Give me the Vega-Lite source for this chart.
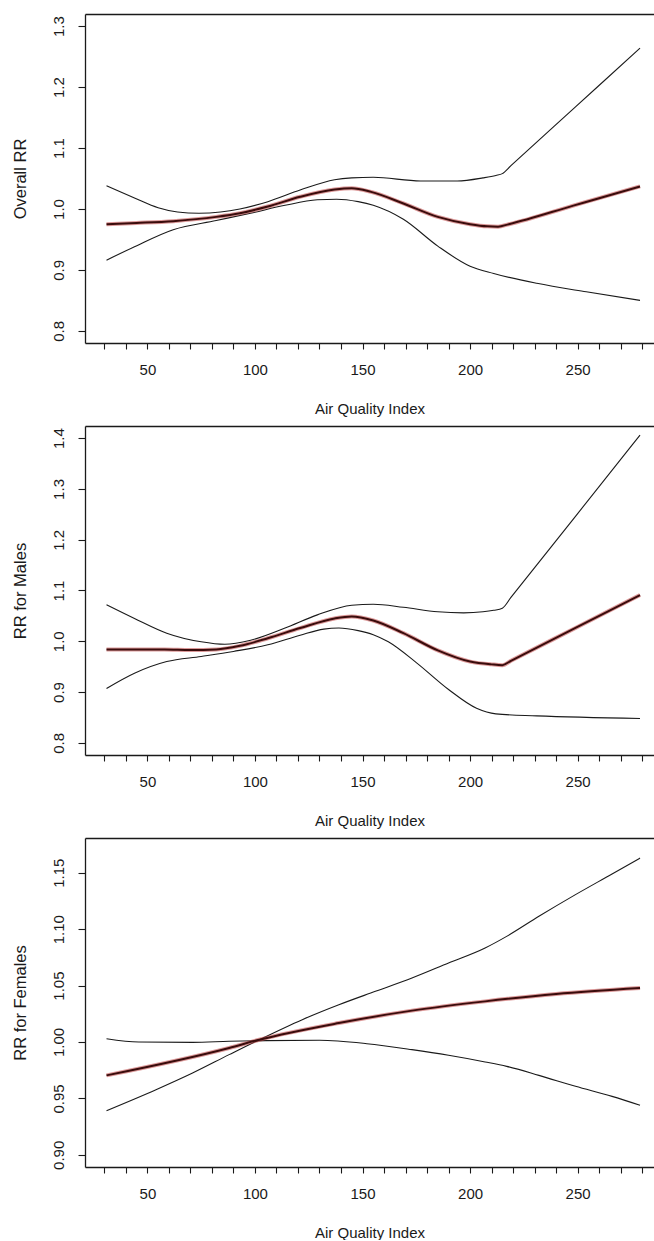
{
  "$schema": "https://vega.github.io/schema/vega-lite/v6.json",
  "padding": {"left": 12, "top": 14, "right": 0, "bottom": 0},
  "background": "white",
  "config": {
    "view": {"stroke": null},
    "axis": {
      "grid": false,
      "domainColor": "#1a1a1a",
      "domainWidth": 1.3,
      "tickColor": "#1a1a1a",
      "tickWidth": 1.1,
      "tickSize": 6,
      "labelFont": "Liberation Sans",
      "labelFontSize": 15,
      "labelColor": "#1a1a1a",
      "titleFont": "Liberation Sans",
      "titleFontSize": 15,
      "titleFontWeight": "normal",
      "titleColor": "#1a1a1a",
      "labelOverlap": false,
      "labelFlush": false
    },
    "axisY": {"titleFontSize": 16.5, "tickSize": 7}
  },
  "datasets": {
    "rr": [
      {"panel": "overall", "series": "est", "aqi": 31, "rr": 0.975},
      {"panel": "overall", "series": "est", "aqi": 45, "rr": 0.977},
      {"panel": "overall", "series": "est", "aqi": 62, "rr": 0.980},
      {"panel": "overall", "series": "est", "aqi": 82, "rr": 0.987},
      {"panel": "overall", "series": "est", "aqi": 93, "rr": 0.993},
      {"panel": "overall", "series": "est", "aqi": 106, "rr": 1.004},
      {"panel": "overall", "series": "est", "aqi": 121, "rr": 1.020},
      {"panel": "overall", "series": "est", "aqi": 137, "rr": 1.032},
      {"panel": "overall", "series": "est", "aqi": 145, "rr": 1.034},
      {"panel": "overall", "series": "est", "aqi": 154, "rr": 1.028},
      {"panel": "overall", "series": "est", "aqi": 169, "rr": 1.009},
      {"panel": "overall", "series": "est", "aqi": 185, "rr": 0.987},
      {"panel": "overall", "series": "est", "aqi": 200, "rr": 0.975},
      {"panel": "overall", "series": "est", "aqi": 208, "rr": 0.9715},
      {"panel": "overall", "series": "est", "aqi": 213, "rr": 0.971},
      {"panel": "overall", "series": "est", "aqi": 218, "rr": 0.975},
      {"panel": "overall", "series": "est", "aqi": 248, "rr": 1.0055},
      {"panel": "overall", "series": "est", "aqi": 279, "rr": 1.037},
      {"panel": "overall", "series": "upper", "aqi": 31, "rr": 1.038},
      {"panel": "overall", "series": "upper", "aqi": 44, "rr": 1.018},
      {"panel": "overall", "series": "upper", "aqi": 55, "rr": 1.002},
      {"panel": "overall", "series": "upper", "aqi": 64, "rr": 0.995},
      {"panel": "overall", "series": "upper", "aqi": 74, "rr": 0.993},
      {"panel": "overall", "series": "upper", "aqi": 84, "rr": 0.995},
      {"panel": "overall", "series": "upper", "aqi": 93, "rr": 1.000},
      {"panel": "overall", "series": "upper", "aqi": 106, "rr": 1.012},
      {"panel": "overall", "series": "upper", "aqi": 121, "rr": 1.031},
      {"panel": "overall", "series": "upper", "aqi": 137, "rr": 1.048},
      {"panel": "overall", "series": "upper", "aqi": 145, "rr": 1.051},
      {"panel": "overall", "series": "upper", "aqi": 155, "rr": 1.052},
      {"panel": "overall", "series": "upper", "aqi": 177, "rr": 1.046},
      {"panel": "overall", "series": "upper", "aqi": 194, "rr": 1.046},
      {"panel": "overall", "series": "upper", "aqi": 206, "rr": 1.051},
      {"panel": "overall", "series": "upper", "aqi": 212, "rr": 1.055},
      {"panel": "overall", "series": "upper", "aqi": 215, "rr": 1.058},
      {"panel": "overall", "series": "upper", "aqi": 219, "rr": 1.071},
      {"panel": "overall", "series": "upper", "aqi": 249, "rr": 1.1675},
      {"panel": "overall", "series": "upper", "aqi": 279, "rr": 1.264},
      {"panel": "overall", "series": "lower", "aqi": 31, "rr": 0.916},
      {"panel": "overall", "series": "lower", "aqi": 44, "rr": 0.938},
      {"panel": "overall", "series": "lower", "aqi": 62, "rr": 0.966},
      {"panel": "overall", "series": "lower", "aqi": 82, "rr": 0.981},
      {"panel": "overall", "series": "lower", "aqi": 98, "rr": 0.993},
      {"panel": "overall", "series": "lower", "aqi": 114, "rr": 1.006},
      {"panel": "overall", "series": "lower", "aqi": 129, "rr": 1.015},
      {"panel": "overall", "series": "lower", "aqi": 138, "rr": 1.016},
      {"panel": "overall", "series": "lower", "aqi": 148, "rr": 1.012},
      {"panel": "overall", "series": "lower", "aqi": 155, "rr": 1.006},
      {"panel": "overall", "series": "lower", "aqi": 169, "rr": 0.983},
      {"panel": "overall", "series": "lower", "aqi": 185, "rr": 0.939},
      {"panel": "overall", "series": "lower", "aqi": 200, "rr": 0.906},
      {"panel": "overall", "series": "lower", "aqi": 211, "rr": 0.894},
      {"panel": "overall", "series": "lower", "aqi": 231, "rr": 0.878},
      {"panel": "overall", "series": "lower", "aqi": 254, "rr": 0.864},
      {"panel": "overall", "series": "lower", "aqi": 279, "rr": 0.850},

      {"panel": "males", "series": "est", "aqi": 31, "rr": 0.984},
      {"panel": "males", "series": "est", "aqi": 45, "rr": 0.984},
      {"panel": "males", "series": "est", "aqi": 58, "rr": 0.984},
      {"panel": "males", "series": "est", "aqi": 70, "rr": 0.983},
      {"panel": "males", "series": "est", "aqi": 82, "rr": 0.984},
      {"panel": "males", "series": "est", "aqi": 93, "rr": 0.991},
      {"panel": "males", "series": "est", "aqi": 106, "rr": 1.006},
      {"panel": "males", "series": "est", "aqi": 121, "rr": 1.026},
      {"panel": "males", "series": "est", "aqi": 137, "rr": 1.045},
      {"panel": "males", "series": "est", "aqi": 145, "rr": 1.049},
      {"panel": "males", "series": "est", "aqi": 155, "rr": 1.041},
      {"panel": "males", "series": "est", "aqi": 169, "rr": 1.016},
      {"panel": "males", "series": "est", "aqi": 185, "rr": 0.982},
      {"panel": "males", "series": "est", "aqi": 200, "rr": 0.960},
      {"panel": "males", "series": "est", "aqi": 210, "rr": 0.9545},
      {"panel": "males", "series": "est", "aqi": 215, "rr": 0.953},
      {"panel": "males", "series": "est", "aqi": 219, "rr": 0.9616},
      {"panel": "males", "series": "est", "aqi": 249, "rr": 1.0263},
      {"panel": "males", "series": "est", "aqi": 279, "rr": 1.091},
      {"panel": "males", "series": "upper", "aqi": 31, "rr": 1.072},
      {"panel": "males", "series": "upper", "aqi": 44, "rr": 1.045},
      {"panel": "males", "series": "upper", "aqi": 59, "rr": 1.016},
      {"panel": "males", "series": "upper", "aqi": 75, "rr": 0.999},
      {"panel": "males", "series": "upper", "aqi": 86, "rr": 0.994},
      {"panel": "males", "series": "upper", "aqi": 98, "rr": 1.002},
      {"panel": "males", "series": "upper", "aqi": 114, "rr": 1.026},
      {"panel": "males", "series": "upper", "aqi": 129, "rr": 1.052},
      {"panel": "males", "series": "upper", "aqi": 145, "rr": 1.071},
      {"panel": "males", "series": "upper", "aqi": 155, "rr": 1.073},
      {"panel": "males", "series": "upper", "aqi": 169, "rr": 1.067},
      {"panel": "males", "series": "upper", "aqi": 185, "rr": 1.058},
      {"panel": "males", "series": "upper", "aqi": 197, "rr": 1.056},
      {"panel": "males", "series": "upper", "aqi": 206, "rr": 1.058},
      {"panel": "males", "series": "upper", "aqi": 211, "rr": 1.061},
      {"panel": "males", "series": "upper", "aqi": 215, "rr": 1.065},
      {"panel": "males", "series": "upper", "aqi": 219, "rr": 1.0863},
      {"panel": "males", "series": "upper", "aqi": 249, "rr": 1.2461},
      {"panel": "males", "series": "upper", "aqi": 279, "rr": 1.406},
      {"panel": "males", "series": "lower", "aqi": 31, "rr": 0.907},
      {"panel": "males", "series": "lower", "aqi": 44, "rr": 0.937},
      {"panel": "males", "series": "lower", "aqi": 59, "rr": 0.960},
      {"panel": "males", "series": "lower", "aqi": 75, "rr": 0.970},
      {"panel": "males", "series": "lower", "aqi": 90, "rr": 0.980},
      {"panel": "males", "series": "lower", "aqi": 106, "rr": 0.993},
      {"panel": "males", "series": "lower", "aqi": 121, "rr": 1.012},
      {"panel": "males", "series": "lower", "aqi": 132, "rr": 1.024},
      {"panel": "males", "series": "lower", "aqi": 139, "rr": 1.026},
      {"panel": "males", "series": "lower", "aqi": 148, "rr": 1.021},
      {"panel": "males", "series": "lower", "aqi": 155, "rr": 1.013},
      {"panel": "males", "series": "lower", "aqi": 162, "rr": 0.999},
      {"panel": "males", "series": "lower", "aqi": 175, "rr": 0.958},
      {"panel": "males", "series": "lower", "aqi": 190, "rr": 0.905},
      {"panel": "males", "series": "lower", "aqi": 203, "rr": 0.868},
      {"panel": "males", "series": "lower", "aqi": 212, "rr": 0.857},
      {"panel": "males", "series": "lower", "aqi": 231, "rr": 0.853},
      {"panel": "males", "series": "lower", "aqi": 279, "rr": 0.848},

      {"panel": "females", "series": "est", "aqi": 31, "rr": 0.9704},
      {"panel": "females", "series": "est", "aqi": 88, "rr": 0.9947},
      {"panel": "females", "series": "est", "aqi": 102, "rr": 1.0020},
      {"panel": "females", "series": "est", "aqi": 139, "rr": 1.0168},
      {"panel": "females", "series": "est", "aqi": 173, "rr": 1.0278},
      {"panel": "females", "series": "est", "aqi": 207, "rr": 1.0360},
      {"panel": "females", "series": "est", "aqi": 240, "rr": 1.0425},
      {"panel": "females", "series": "est", "aqi": 279, "rr": 1.0478},
      {"panel": "females", "series": "upper", "aqi": 31, "rr": 0.9391},
      {"panel": "females", "series": "upper", "aqi": 54, "rr": 0.9577},
      {"panel": "females", "series": "upper", "aqi": 71, "rr": 0.9725},
      {"panel": "females", "series": "upper", "aqi": 88, "rr": 0.9888},
      {"panel": "females", "series": "upper", "aqi": 102, "rr": 1.0020},
      {"panel": "females", "series": "upper", "aqi": 122, "rr": 1.0198},
      {"panel": "females", "series": "upper", "aqi": 139, "rr": 1.0330},
      {"panel": "females", "series": "upper", "aqi": 156, "rr": 1.0449},
      {"panel": "females", "series": "upper", "aqi": 173, "rr": 1.0567},
      {"panel": "females", "series": "upper", "aqi": 190, "rr": 1.0700},
      {"panel": "females", "series": "upper", "aqi": 207, "rr": 1.0833},
      {"panel": "females", "series": "upper", "aqi": 217, "rr": 1.0936},
      {"panel": "females", "series": "upper", "aqi": 232, "rr": 1.1114},
      {"panel": "females", "series": "upper", "aqi": 249, "rr": 1.1306},
      {"panel": "females", "series": "upper", "aqi": 266, "rr": 1.1489},
      {"panel": "females", "series": "upper", "aqi": 279, "rr": 1.1630},
      {"panel": "females", "series": "lower", "aqi": 31, "rr": 1.0029},
      {"panel": "females", "series": "lower", "aqi": 46, "rr": 1.0000},
      {"panel": "females", "series": "lower", "aqi": 71, "rr": 0.9997},
      {"panel": "females", "series": "lower", "aqi": 88, "rr": 1.0006},
      {"panel": "females", "series": "lower", "aqi": 105, "rr": 1.0012},
      {"panel": "females", "series": "lower", "aqi": 130, "rr": 1.0015},
      {"panel": "females", "series": "lower", "aqi": 152, "rr": 0.9985},
      {"panel": "females", "series": "lower", "aqi": 173, "rr": 0.9932},
      {"panel": "females", "series": "lower", "aqi": 190, "rr": 0.9882},
      {"panel": "females", "series": "lower", "aqi": 207, "rr": 0.9823},
      {"panel": "females", "series": "lower", "aqi": 217, "rr": 0.9784},
      {"panel": "females", "series": "lower", "aqi": 232, "rr": 0.9704},
      {"panel": "females", "series": "lower", "aqi": 249, "rr": 0.9607},
      {"panel": "females", "series": "lower", "aqi": 266, "rr": 0.9518},
      {"panel": "females", "series": "lower", "aqi": 279, "rr": 0.9439}
    ]
  },
  "data": {"name": "rr"},
  "bounds": "flush",
  "spacing": 83,
  "vconcat": [
    {
      "width": 569,
      "height": 329,
      "transform": [{"filter": "datum.panel === 'overall'"}],
      "resolve": {"axis": {"x": "independent"}},
      "layer": [
        {
          "transform": [{"filter": "datum.series !== 'est'"}],
          "mark": {"type": "line", "stroke": "#1a1a1a", "strokeWidth": 1.1, "interpolate": "monotone"},
          "encoding": {
            "x": {"field": "aqi", "type": "quantitative",
              "scale": {"domain": [21, 285.5], "nice": false, "zero": false},
              "axis": {"values": [30,40,50,60,70,80,90,100,110,120,130,140,150,160,170,180,190,200,210,220,230,240,250,260,270,280],
                "format": "d", "labelExpr": "datum.value % 50 === 0 ? datum.label : ''",
                "labelPadding": 13, "title": "Air Quality Index", "titleY": 65, "titleBaseline": "middle"}},
            "y": {"field": "rr", "type": "quantitative",
              "scale": {"domain": [0.78, 1.32], "nice": false, "zero": false},
              "axis": {"values": [0.8,0.85,0.9,0.95,1.0,1.05,1.1,1.15,1.2,1.25,1.3],
                "format": ".1f", "labelExpr": "round(datum.value * 100) % 10 === 0 ? datum.label : ''",
                "labelAngle": -90, "labelAlign": "center", "labelBaseline": "bottom", "labelPadding": 12,
                "title": "Overall RR", "titleX": -65, "titleY": 164.5, "titleAngle": -90, "titleAlign": "center", "titleBaseline": "middle"}},
            "detail": {"field": "series"}
          }
        },
        {
          "transform": [{"filter": "datum.series === 'est'"}],
          "mark": {"type": "line", "stroke": "#c04545", "strokeWidth": 4, "opacity": 0.55, "interpolate": "monotone"},
          "encoding": {
            "x": {"field": "aqi", "type": "quantitative", "axis": null},
            "y": {"field": "rr", "type": "quantitative"}
          }
        },
        {
          "transform": [{"filter": "datum.series === 'est'"}],
          "mark": {"type": "line", "stroke": "#3a0c0c", "strokeWidth": 2, "interpolate": "monotone"},
          "encoding": {
            "x": {"field": "aqi", "type": "quantitative",
              "axis": {"orient": "top", "labels": false, "ticks": false, "title": null, "domain": true}},
            "y": {"field": "rr", "type": "quantitative"}
          }
        }
      ]
    },
    {
      "width": 569,
      "height": 329,
      "transform": [{"filter": "datum.panel === 'males'"}],
      "resolve": {"axis": {"x": "independent"}},
      "layer": [
        {
          "transform": [{"filter": "datum.series !== 'est'"}],
          "mark": {"type": "line", "stroke": "#1a1a1a", "strokeWidth": 1.1, "interpolate": "monotone"},
          "encoding": {
            "x": {"field": "aqi", "type": "quantitative",
              "scale": {"domain": [21, 285.5], "nice": false, "zero": false},
              "axis": {"values": [30,40,50,60,70,80,90,100,110,120,130,140,150,160,170,180,190,200,210,220,230,240,250,260,270,280],
                "format": "d", "labelExpr": "datum.value % 50 === 0 ? datum.label : ''",
                "labelPadding": 13, "title": "Air Quality Index", "titleY": 65, "titleBaseline": "middle"}},
            "y": {"field": "rr", "type": "quantitative",
              "scale": {"domain": [0.776, 1.424], "nice": false, "zero": false},
              "axis": {"values": [0.8,0.85,0.9,0.95,1.0,1.05,1.1,1.15,1.2,1.25,1.3,1.35,1.4],
                "format": ".1f", "labelExpr": "round(datum.value * 100) % 10 === 0 ? datum.label : ''",
                "labelAngle": -90, "labelAlign": "center", "labelBaseline": "bottom", "labelPadding": 12,
                "title": "RR for Males", "titleX": -65, "titleY": 164.5, "titleAngle": -90, "titleAlign": "center", "titleBaseline": "middle"}},
            "detail": {"field": "series"}
          }
        },
        {
          "transform": [{"filter": "datum.series === 'est'"}],
          "mark": {"type": "line", "stroke": "#c04545", "strokeWidth": 4, "opacity": 0.55, "interpolate": "monotone"},
          "encoding": {
            "x": {"field": "aqi", "type": "quantitative", "axis": null},
            "y": {"field": "rr", "type": "quantitative"}
          }
        },
        {
          "transform": [{"filter": "datum.series === 'est'"}],
          "mark": {"type": "line", "stroke": "#3a0c0c", "strokeWidth": 2, "interpolate": "monotone"},
          "encoding": {
            "x": {"field": "aqi", "type": "quantitative",
              "axis": {"orient": "top", "labels": false, "ticks": false, "title": null, "domain": true}},
            "y": {"field": "rr", "type": "quantitative"}
          }
        }
      ]
    },
    {
      "width": 569,
      "height": 329,
      "transform": [{"filter": "datum.panel === 'females'"}],
      "resolve": {"axis": {"x": "independent"}},
      "layer": [
        {
          "transform": [{"filter": "datum.series !== 'est'"}],
          "mark": {"type": "line", "stroke": "#1a1a1a", "strokeWidth": 1.1, "interpolate": "monotone"},
          "encoding": {
            "x": {"field": "aqi", "type": "quantitative",
              "scale": {"domain": [21, 285.5], "nice": false, "zero": false},
              "axis": {"values": [30,40,50,60,70,80,90,100,110,120,130,140,150,160,170,180,190,200,210,220,230,240,250,260,270,280],
                "format": "d", "labelExpr": "datum.value % 50 === 0 ? datum.label : ''",
                "labelPadding": 13, "title": "Air Quality Index", "titleY": 65, "titleBaseline": "middle"}},
            "y": {"field": "rr", "type": "quantitative",
              "scale": {"domain": [0.8892, 1.1808], "nice": false, "zero": false},
              "axis": {"values": [0.9,0.925,0.95,0.975,1.0,1.025,1.05,1.075,1.1,1.125,1.15,1.175],
                "format": ".2f", "labelExpr": "round(datum.value * 1000) % 50 === 0 ? datum.label : ''",
                "labelAngle": -90, "labelAlign": "center", "labelBaseline": "bottom", "labelPadding": 12,
                "title": "RR for Females", "titleX": -65, "titleY": 164.5, "titleAngle": -90, "titleAlign": "center", "titleBaseline": "middle"}},
            "detail": {"field": "series"}
          }
        },
        {
          "transform": [{"filter": "datum.series === 'est'"}],
          "mark": {"type": "line", "stroke": "#c04545", "strokeWidth": 4, "opacity": 0.55, "interpolate": "monotone"},
          "encoding": {
            "x": {"field": "aqi", "type": "quantitative", "axis": null},
            "y": {"field": "rr", "type": "quantitative"}
          }
        },
        {
          "transform": [{"filter": "datum.series === 'est'"}],
          "mark": {"type": "line", "stroke": "#3a0c0c", "strokeWidth": 2, "interpolate": "monotone"},
          "encoding": {
            "x": {"field": "aqi", "type": "quantitative",
              "axis": {"orient": "top", "labels": false, "ticks": false, "title": null, "domain": true}},
            "y": {"field": "rr", "type": "quantitative"}
          }
        }
      ]
    }
  ]
}
